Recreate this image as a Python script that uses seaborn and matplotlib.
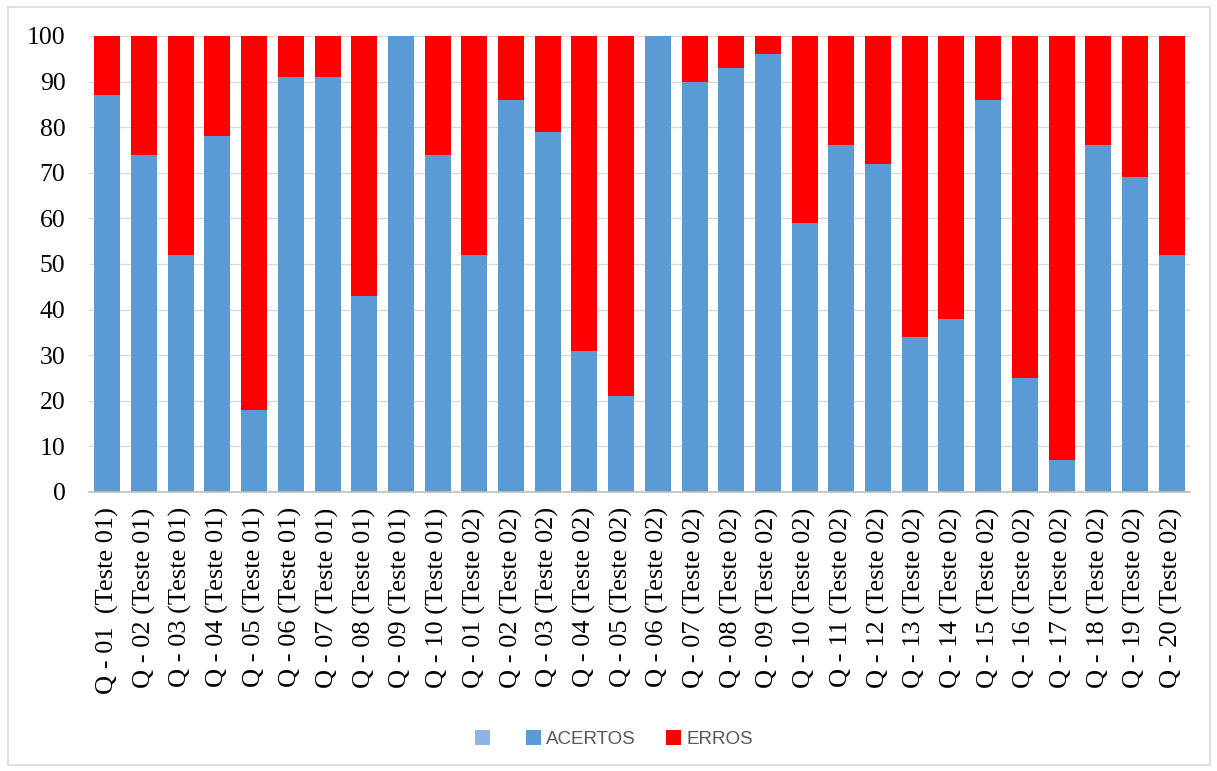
import matplotlib
matplotlib.use("Agg")
import matplotlib.pyplot as plt
from matplotlib.patches import Patch, Rectangle
import numpy as np
import pandas as pd
import seaborn as sns

# Questions and test rounds
questoes = ["Q - 01 ", "Q - 02", "Q - 03", "Q - 04", "Q - 05", "Q - 06", "Q - 07",
            "Q - 08", "Q - 09", "Q - 10",
            "Q - 01", "Q - 02", "Q - 03", "Q - 04", "Q - 05", "Q - 06", "Q - 07",
            "Q - 08", "Q - 09", "Q - 10", "Q - 11", "Q - 12", "Q - 13", "Q - 14",
            "Q - 15", "Q - 16", "Q - 17", "Q - 18", "Q - 19", "Q - 20"]
testes = ["(Teste 01)"] * 10 + ["(Teste 02)"] * 20

# Percentage of correct answers per question
acertos = [87, 74, 52, 78, 18, 91, 91, 43, 100, 74,
           52, 86, 79, 31, 21, 100, 90, 93, 96, 59,
           76, 72, 34, 38, 86, 25, 7, 76, 69, 52]
erros = [100 - a for a in acertos]

labels = [f"{q} {t}" for q, t in zip(questoes, testes)]
df = pd.DataFrame({"questao": labels, "acertos": acertos, "erros": erros})
df["total"] = df["acertos"] + df["erros"]

sns.set_theme(style="white")
plt.rcParams["font.family"] = ["Liberation Serif", "DejaVu Serif"]

COR_ACERTOS = "#5b9bd5"
COR_ERROS = "#ff0000"
COR_VAZIO = "#8db4e2"

fig = plt.figure(figsize=(12.17, 7.71), dpi=100)
ax = fig.add_axes([89 / 1217, 1 - 492 / 771, (1190 - 89) / 1217, (492 - 36) / 771])

# stacked bars: errors on top of the correct answers
order = list(range(len(df)))
sns.barplot(x=order, y=df["total"], color=COR_ERROS, saturation=1, width=0.71,
            ax=ax, errorbar=None, linewidth=0)
sns.barplot(x=order, y=df["acertos"], color=COR_ACERTOS, saturation=1, width=0.71,
            ax=ax, errorbar=None, linewidth=0)

ax.set_ylim(0, 100)
ax.set_xlim(-0.5, len(df) - 0.5)
ax.set_yticks(np.arange(0, 101, 10))
ax.yaxis.grid(True, color="#d9d9d9", linewidth=1)
ax.set_axisbelow(True)
ax.set_xlabel("")
ax.set_ylabel("")

ax.set_xticks(order)
ax.set_xticklabels(df["questao"], rotation=90, fontsize=19, color="black",
                   ha="center", va="top")
ax.tick_params(axis="y", labelsize=18.5, colors="black", length=0, pad=17)
ax.tick_params(axis="x", length=0, pad=11)

for side in ["top", "right", "left"]:
    ax.spines[side].set_visible(False)
ax.spines["bottom"].set_color("#bfbfbf")
ax.spines["bottom"].set_linewidth(1.2)

# chart area border
fig.patches.append(Rectangle((8 / 1217, 1 - 765 / 771), 1202 / 1217, 758 / 771,
                             transform=fig.transFigure, fill=False,
                             edgecolor="#d9d9d9", linewidth=1.2))

handles = [Patch(facecolor=COR_VAZIO, edgecolor="none"),
           Patch(facecolor=COR_ACERTOS, edgecolor="none"),
           Patch(facecolor=COR_ERROS, edgecolor="none")]
leg = fig.legend(handles, ["", "ACERTOS", "ERROS"], ncol=3, loc="center",
                 bbox_to_anchor=(614 / 1217, 1 - 739 / 771), frameon=False,
                 handlelength=0.8, handleheight=0.8, handletextpad=0.3,
                 columnspacing=1.6,
                 prop={"family": "Liberation Sans", "size": 13.5})
for t in leg.get_texts():
    t.set_color("#595959")

fig.savefig("out.png", dpi=100, facecolor="white")
